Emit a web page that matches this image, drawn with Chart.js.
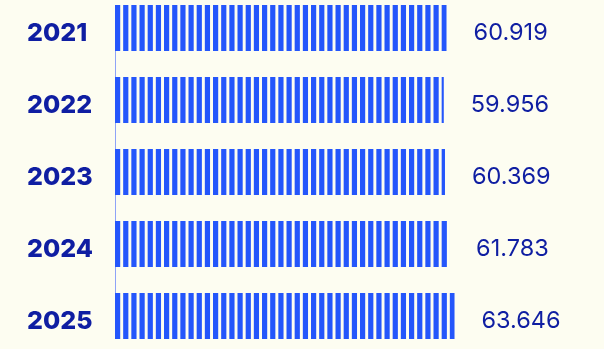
<!DOCTYPE html>
<html>
<head>
<meta charset="utf-8">
<script src="https://cdn.jsdelivr.net/npm/chart.js@4.4.1/dist/chart.umd.min.js"></script>
<style>
  html, body { margin: 0; padding: 0; background: #fdfdf1; overflow: hidden; }
  body { width: 604px; height: 349px; position: relative; }
  #wrap { position: absolute; left: 0; top: -8px; width: 604px; height: 360px; }
</style>
</head>
<body>
<div id="wrap"><canvas id="yearChart"></canvas></div>
<script>
const years = ['2021', '2022', '2023', '2024', '2025'];
const amounts = [60.919, 59.956, 60.369, 61.783, 63.646];
const xRange = [-53, 115];

const BLUE = '#2456fb';
const INK = '#0f1ea2';

// striped fill, 6 stripes per tile so the period can be fractional
function makeStripes(ctx, left) {
  const tile = document.createElement('canvas');
  tile.width = 49;
  tile.height = 4;
  const t = tile.getContext('2d');
  t.fillStyle = BLUE;
  const step = tile.width / 6;
  for (let i = 0; i < 6; i++) {
    t.fillRect(i * step, 0, 5.2, tile.height);
  }
  const pattern = ctx.createPattern(tile, 'repeat');
  pattern.setTransform(new DOMMatrix().translate(left, 0));
  return pattern;
}

const axisLine = {
  id: 'axisLine',
  beforeDatasetsDraw(chart) {
    const bars = chart.getDatasetMeta(0).data;
    if (!bars.length) return;
    const first = bars[0], last = bars[bars.length - 1];
    const ctx = chart.ctx;
    const x = chart.chartArea.left + 0.5;
    ctx.save();
    ctx.strokeStyle = '#8ea3f7';
    ctx.lineWidth = 1;
    ctx.beginPath();
    ctx.moveTo(x, first.y - first.height / 2);
    ctx.lineTo(x, last.y + last.height / 2);
    ctx.stroke();
    ctx.restore();
  }
};

const valueLabels = {
  id: 'valueLabels',
  afterDatasetsDraw(chart) {
    const ctx = chart.ctx;
    const meta = chart.getDatasetMeta(0);
    ctx.save();
    ctx.font = '400 23.5px Inter';
    ctx.fillStyle = INK;
    ctx.textAlign = 'left';
    ctx.textBaseline = 'middle';
    meta.data.forEach((bar, i) => {
      ctx.fillText(amounts[i].toFixed(3), bar.x + 27, bar.y + 5);
    });
    ctx.restore();
  }
};

new Chart(document.getElementById('yearChart'), {
  type: 'bar',
  data: {
    labels: years,
    datasets: [{
      data: amounts,
      base: xRange[0],
      backgroundColor: (c) => {
        const area = c.chart.chartArea;
        if (!area) return BLUE;
        return makeStripes(c.chart.ctx, area.left);
      },
      borderWidth: 0,
      categoryPercentage: 1,
      barPercentage: 46 / 72
    }]
  },
  options: {
    indexAxis: 'y',
    responsive: true,
    maintainAspectRatio: false,
    animation: false,
    layout: { padding: { left: 27, right: 0, top: 0, bottom: 0 } },
    plugins: {
      legend: { display: false },
      tooltip: { enabled: false }
    },
    scales: {
      x: {
        display: false,
        min: xRange[0],
        max: xRange[1]
      },
      y: {
        grid: { display: false },
        border: { display: false },
        afterFit(scale) {
          scale.width = 88;
          scale.paddingTop = 0;
          scale.paddingBottom = 0;
        },
        ticks: {
          crossAlign: 'far',
          padding: 0,
          labelOffset: 5,
          color: INK,
          font: { family: 'Inter', size: 25, weight: 800 }
        }
      }
    }
  },
  plugins: [axisLine, valueLabels]
});
</script>
</body>
</html>
